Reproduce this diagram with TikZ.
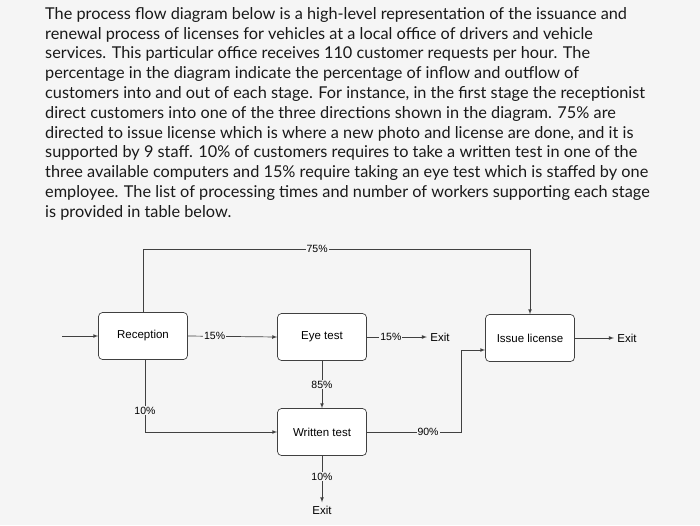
\documentclass[tikz,border=0pt]{standalone}
\usepackage{fontspec}
\setmainfont{Lato}
\newfontfamily\diag{Liberation Sans}
\begin{document}
\begin{tikzpicture}[x=1pt,y=-1pt,
  box/.style={draw=black!75,rounded corners=4pt,minimum width=89pt,minimum height=47pt,font=\diag\fontsize{11.5}{13}\selectfont,fill=white,line width=0.7pt},
  lbl/.style={font=\diag\fontsize{10.5}{12}\selectfont,fill=black!4,inner sep=1pt},
  txt/.style={font=\diag\fontsize{11.5}{13}\selectfont},
  flow/.style={draw=black!75,line width=0.7pt,-latex}]
\fill[black!4] (0,0) rectangle (700,525);
\useasboundingbox (0,0) rectangle (700,525);
\node[anchor=north west,align=left,inner sep=0pt,font=\fontsize{16.3}{19.8}\selectfont,text=black!90] (para) at (45,7) {%
The process flow diagram below is a high-level representation of the issuance and\\
renewal process of licenses for vehicles at a local office of drivers and vehicle\\
services. This particular office receives 110 customer requests per hour. The\\
percentage in the diagram indicate the percentage of inflow and outflow of\\
customers into and out of each stage. For instance, in the first stage the receptionist\\
direct customers into one of the three directions shown in the diagram. 75\% are\\
directed to issue license which is where a new photo and license are done, and it is\\
supported by 9 staff. 10\% of customers requires to take a written test in one of the\\
three available computers and 15\% require taking an eye test which is staffed by one\\
employee. The list of processing times and number of workers supporting each stage\\
is provided in table below.};
\node[box] (rec) at (143,336) {Reception};
\node[box] (eye) at (322,337) {Eye test};
\node[box] (iss) at (530,338) {Issue license};
\node[box] (wri) at (322,432) {Written test};
\coordinate (in) at (62,336);
\node[txt] (exit1) at (440,337) {Exit};
\node[txt] (exit2) at (627,338) {Exit};
\node[txt] (exit3) at (322,510) {Exit};
\draw[flow] (in) -- (rec);
\draw[flow] (rec.north) -- (143,249) -- node[lbl,pos=0.45]{75\%} (530,249) -- (iss.north);
\draw[flow] (rec.east) -- node[lbl,pos=0.3]{15\%} (eye.west);
\draw[flow] (eye.east) -- node[lbl,pos=0.4]{15\%} (exit1.west);
\draw[flow] (iss.east) -- (exit2.west);
\draw[flow] (eye.south) -- node[lbl]{85\%} (wri.north);
\draw[flow] (145,360) -- node[lbl,pos=0.7]{10\%} (145,432) -- (wri.west);
\draw[flow] (wri.east) -- node[lbl,pos=0.65]{90\%} (461,432) -- (461,350) -- (iss.west |- 0,350);
\draw[flow] (wri.south) -- node[lbl,pos=0.45]{10\%} (exit3.north);
\end{tikzpicture}
\end{document}
